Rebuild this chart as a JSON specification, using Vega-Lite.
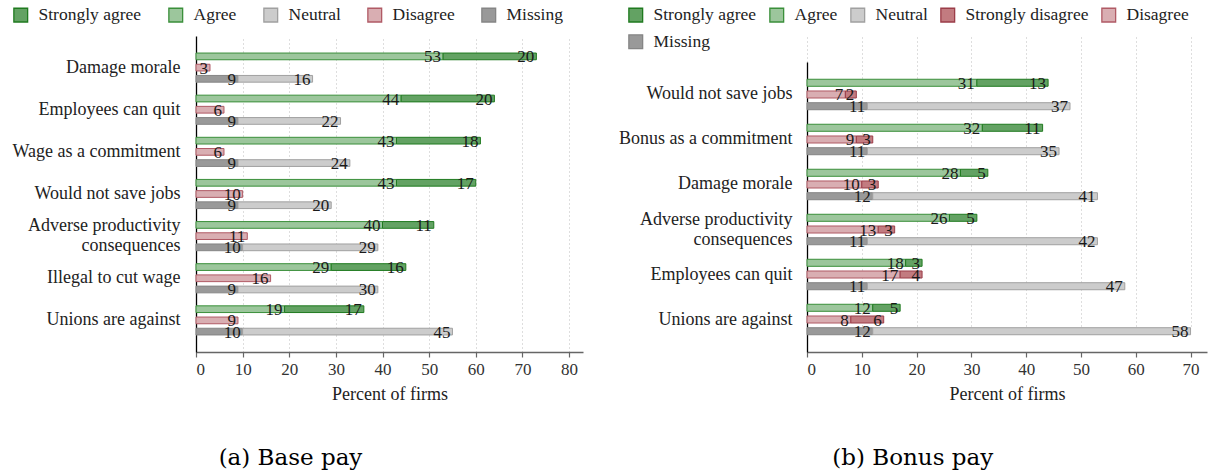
{
  "$schema": "https://vega.github.io/schema/vega-lite/v6.json",
  "background": "white",
  "padding": {"left": 12, "top": 6, "right": 5, "bottom": 2},
  "config": {
    "font": "Liberation Serif",
    "view": {"stroke": null},
    "axisX": {
      "grid": true, "gridDash": [1, 3], "gridColor": "#bdbdbd", "gridWidth": 1,
      "domainColor": "#666666", "domainWidth": 1.5, "tickColor": "#666666", "tickSize": 5, "tickWidth": 1.2,
      "labelFont": "Liberation Serif", "labelFontSize": 17, "labelColor": "#333333", "labelPadding": 4,
      "titleFont": "Liberation Serif", "titleFontSize": 18, "titleFontWeight": "normal", "titleColor": "#222222", "titlePadding": 8
    },
    "axisY": {
      "grid": false, "ticks": false, "domainColor": "#000000", "domainWidth": 1.3,
      "labelFont": "Liberation Serif", "labelFontSize": 18, "labelColor": "#222222", "labelPadding": 16, "labelLimit": 400, "labelLineHeight": 20
    },
    "legend": {
      "orient": "none", "direction": "horizontal", "title": null, "symbolType": "square", "symbolSize": 190,
      "symbolStrokeWidth": 1.3, "labelFont": "Liberation Serif", "labelFontSize": 17.5, "labelOffset": 9, "labelColor": "#222222", "labelLimit": 400
    }
  },
  "datasets": {
    "base": [
      {"q": "Damage morale", "resp": "Agree", "group": "agree", "v": 53},
      {"q": "Damage morale", "resp": "Strongly agree", "group": "agree", "v": 20},
      {"q": "Damage morale", "resp": "Disagree", "group": "disagree", "v": 3},
      {"q": "Damage morale", "resp": "Missing", "group": "other", "v": 9},
      {"q": "Damage morale", "resp": "Neutral", "group": "other", "v": 16},
      {"q": "Employees can quit", "resp": "Agree", "group": "agree", "v": 44},
      {"q": "Employees can quit", "resp": "Strongly agree", "group": "agree", "v": 20},
      {"q": "Employees can quit", "resp": "Disagree", "group": "disagree", "v": 6},
      {"q": "Employees can quit", "resp": "Missing", "group": "other", "v": 9},
      {"q": "Employees can quit", "resp": "Neutral", "group": "other", "v": 22},
      {"q": "Wage as a commitment", "resp": "Agree", "group": "agree", "v": 43},
      {"q": "Wage as a commitment", "resp": "Strongly agree", "group": "agree", "v": 18},
      {"q": "Wage as a commitment", "resp": "Disagree", "group": "disagree", "v": 6},
      {"q": "Wage as a commitment", "resp": "Missing", "group": "other", "v": 9},
      {"q": "Wage as a commitment", "resp": "Neutral", "group": "other", "v": 24},
      {"q": "Would not save jobs", "resp": "Agree", "group": "agree", "v": 43},
      {"q": "Would not save jobs", "resp": "Strongly agree", "group": "agree", "v": 17},
      {"q": "Would not save jobs", "resp": "Disagree", "group": "disagree", "v": 10},
      {"q": "Would not save jobs", "resp": "Missing", "group": "other", "v": 9},
      {"q": "Would not save jobs", "resp": "Neutral", "group": "other", "v": 20},
      {"q": "Adverse productivity consequences", "resp": "Agree", "group": "agree", "v": 40},
      {"q": "Adverse productivity consequences", "resp": "Strongly agree", "group": "agree", "v": 11},
      {"q": "Adverse productivity consequences", "resp": "Disagree", "group": "disagree", "v": 11},
      {"q": "Adverse productivity consequences", "resp": "Missing", "group": "other", "v": 10},
      {"q": "Adverse productivity consequences", "resp": "Neutral", "group": "other", "v": 29},
      {"q": "Illegal to cut wage", "resp": "Agree", "group": "agree", "v": 29},
      {"q": "Illegal to cut wage", "resp": "Strongly agree", "group": "agree", "v": 16},
      {"q": "Illegal to cut wage", "resp": "Disagree", "group": "disagree", "v": 16},
      {"q": "Illegal to cut wage", "resp": "Missing", "group": "other", "v": 9},
      {"q": "Illegal to cut wage", "resp": "Neutral", "group": "other", "v": 30},
      {"q": "Unions are against", "resp": "Agree", "group": "agree", "v": 19},
      {"q": "Unions are against", "resp": "Strongly agree", "group": "agree", "v": 17},
      {"q": "Unions are against", "resp": "Disagree", "group": "disagree", "v": 9},
      {"q": "Unions are against", "resp": "Missing", "group": "other", "v": 10},
      {"q": "Unions are against", "resp": "Neutral", "group": "other", "v": 45}
    ],
    "bonus": [
      {"q": "Would not save jobs", "resp": "Agree", "group": "agree", "v": 31},
      {"q": "Would not save jobs", "resp": "Strongly agree", "group": "agree", "v": 13},
      {"q": "Would not save jobs", "resp": "Disagree", "group": "disagree", "v": 7},
      {"q": "Would not save jobs", "resp": "Strongly disagree", "group": "disagree", "v": 2},
      {"q": "Would not save jobs", "resp": "Missing", "group": "other", "v": 11},
      {"q": "Would not save jobs", "resp": "Neutral", "group": "other", "v": 37},
      {"q": "Bonus as a commitment", "resp": "Agree", "group": "agree", "v": 32},
      {"q": "Bonus as a commitment", "resp": "Strongly agree", "group": "agree", "v": 11},
      {"q": "Bonus as a commitment", "resp": "Disagree", "group": "disagree", "v": 9},
      {"q": "Bonus as a commitment", "resp": "Strongly disagree", "group": "disagree", "v": 3},
      {"q": "Bonus as a commitment", "resp": "Missing", "group": "other", "v": 11},
      {"q": "Bonus as a commitment", "resp": "Neutral", "group": "other", "v": 35},
      {"q": "Damage morale", "resp": "Agree", "group": "agree", "v": 28},
      {"q": "Damage morale", "resp": "Strongly agree", "group": "agree", "v": 5},
      {"q": "Damage morale", "resp": "Disagree", "group": "disagree", "v": 10},
      {"q": "Damage morale", "resp": "Strongly disagree", "group": "disagree", "v": 3},
      {"q": "Damage morale", "resp": "Missing", "group": "other", "v": 12},
      {"q": "Damage morale", "resp": "Neutral", "group": "other", "v": 41},
      {"q": "Adverse productivity consequences", "resp": "Agree", "group": "agree", "v": 26},
      {"q": "Adverse productivity consequences", "resp": "Strongly agree", "group": "agree", "v": 5},
      {"q": "Adverse productivity consequences", "resp": "Disagree", "group": "disagree", "v": 13},
      {"q": "Adverse productivity consequences", "resp": "Strongly disagree", "group": "disagree", "v": 3},
      {"q": "Adverse productivity consequences", "resp": "Missing", "group": "other", "v": 11},
      {"q": "Adverse productivity consequences", "resp": "Neutral", "group": "other", "v": 42},
      {"q": "Employees can quit", "resp": "Agree", "group": "agree", "v": 18},
      {"q": "Employees can quit", "resp": "Strongly agree", "group": "agree", "v": 3},
      {"q": "Employees can quit", "resp": "Disagree", "group": "disagree", "v": 17},
      {"q": "Employees can quit", "resp": "Strongly disagree", "group": "disagree", "v": 4},
      {"q": "Employees can quit", "resp": "Missing", "group": "other", "v": 11},
      {"q": "Employees can quit", "resp": "Neutral", "group": "other", "v": 47},
      {"q": "Unions are against", "resp": "Agree", "group": "agree", "v": 12},
      {"q": "Unions are against", "resp": "Strongly agree", "group": "agree", "v": 5},
      {"q": "Unions are against", "resp": "Disagree", "group": "disagree", "v": 8},
      {"q": "Unions are against", "resp": "Strongly disagree", "group": "disagree", "v": 6},
      {"q": "Unions are against", "resp": "Missing", "group": "other", "v": 12},
      {"q": "Unions are against", "resp": "Neutral", "group": "other", "v": 58}
    ]
  },
  "bounds": "flush",
  "spacing": 224,
  "resolve": {
    "scale": {"x": "independent", "y": "independent", "yOffset": "independent", "fill": "independent", "stroke": "independent"},
    "legend": {"fill": "independent", "stroke": "independent"}
  },
  "hconcat": [
    {
      "width": 387,
      "height": 316,
      "title": {"text": "(a) Base pay", "orient": "bottom", "anchor": "middle", "frame": "bounds", "font": "DejaVu Serif", "fontSize": 23, "fontWeight": "normal", "offset": 44, "dx": -7, "color": "#000000"},
      "data": {"name": "base"},
      "transform": [
        {"stack": "v", "groupby": ["q", "group"], "sort": [{"field": "resp", "order": "ascending"}], "as": ["x0", "x1"]}
      ],
      "encoding": {
        "y": {
          "field": "q", "type": "nominal",
          "sort": ["Damage morale", "Employees can quit", "Wage as a commitment", "Would not save jobs", "Adverse productivity consequences", "Illegal to cut wage", "Unions are against"],
          "scale": {"paddingInner": 0, "paddingOuter": 0.25},
          "axis": {
            "title": null,
            "labelExpr": "datum.label == 'Adverse productivity consequences' ? ['Adverse productivity', 'consequences'] : datum.label",
            "labelOffset": {"condition": {"test": "datum.value == 'Adverse productivity consequences'", "value": -10}, "value": 0}
          }
        },
        "yOffset": {"field": "group", "type": "nominal", "sort": ["agree", "disagree", "other"], "scale": {"paddingInner": 0.4, "paddingOuter": 0.58}}
      },
      "layer": [
        {
          "mark": {"type": "bar", "strokeWidth": 1},
          "encoding": {
            "x": {"field": "x0", "type": "quantitative", "title": "Percent of firms", "scale": {"domain": [0, 83], "nice": false}, "axis": {"values": [0, 10, 20, 30, 40, 50, 60, 70, 80]}},
            "x2": {"field": "x1"},
            "fill": {"field": "resp", "type": "nominal",
              "scale": {"domain": ["Strongly agree", "Agree", "Neutral", "Disagree", "Missing"], "range": ["#63a263", "#9cc69c", "#cccccc", "#d9aeb2", "#999999"]},
              "legend": {"legendX": -184, "legendY": -30, "columnPadding": 24}},
            "stroke": {"field": "resp", "type": "nominal",
              "scale": {"domain": ["Strongly agree", "Agree", "Neutral", "Disagree", "Missing"], "range": ["#1f7a1f", "#3a8f3a", "#a0a0a0", "#b05a65", "#858585"]},
              "legend": {"legendX": -184, "legendY": -30, "columnPadding": 24}}
          }
        },
        {
          "mark": {"type": "text", "align": "right", "baseline": "middle", "dx": -2, "dy": 1, "font": "Liberation Serif", "fontSize": 17, "color": "#1a1a1a"},
          "encoding": {
            "x": {"field": "x1", "type": "quantitative", "title": "Percent of firms"},
            "text": {"field": "v", "type": "quantitative"}
          }
        }
      ]
    },
    {
      "width": 400,
      "height": 316,
      "title": {"text": "(b) Bonus pay", "orient": "bottom", "anchor": "middle", "frame": "bounds", "font": "DejaVu Serif", "fontSize": 23, "fontWeight": "normal", "offset": 44, "color": "#000000"},
      "data": {"name": "bonus"},
      "transform": [
        {"stack": "v", "groupby": ["q", "group"], "sort": [{"field": "resp", "order": "ascending"}], "as": ["x0", "x1"]}
      ],
      "encoding": {
        "y": {
          "field": "q", "type": "nominal",
          "sort": ["Would not save jobs", "Bonus as a commitment", "Damage morale", "Adverse productivity consequences", "Employees can quit", "Unions are against"],
          "scale": {"paddingInner": 0, "paddingOuter": 0.222, "range": [26, 316]},
          "axis": {
            "title": null, "labelPadding": 15,
            "labelExpr": "datum.label == 'Adverse productivity consequences' ? ['Adverse productivity', 'consequences'] : datum.label",
            "labelOffset": {"condition": {"test": "datum.value == 'Adverse productivity consequences'", "value": -10}, "value": 0}
          }
        },
        "yOffset": {"field": "group", "type": "nominal", "sort": ["agree", "disagree", "other"], "scale": {"paddingInner": 0.4, "paddingOuter": 0.62}}
      },
      "layer": [
        {
          "mark": {"type": "bar", "strokeWidth": 1},
          "encoding": {
            "x": {"field": "x0", "type": "quantitative", "title": "Percent of firms", "scale": {"domain": [0, 73], "nice": false}, "axis": {"values": [0, 10, 20, 30, 40, 50, 60, 70]}},
            "x2": {"field": "x1"},
            "fill": {"field": "resp", "type": "nominal",
              "scale": {"domain": ["Strongly agree", "Agree", "Neutral", "Strongly disagree", "Disagree", "Missing"], "range": ["#63a263", "#9cc69c", "#cccccc", "#c27b80", "#d9aeb2", "#999999"]},
              "legend": {"legendX": -180, "legendY": -30, "columns": 5, "columnPadding": 10, "rowPadding": 7}},
            "stroke": {"field": "resp", "type": "nominal",
              "scale": {"domain": ["Strongly agree", "Agree", "Neutral", "Strongly disagree", "Disagree", "Missing"], "range": ["#1f7a1f", "#3a8f3a", "#a0a0a0", "#9b3d48", "#b05a65", "#858585"]},
              "legend": {"legendX": -180, "legendY": -30, "columns": 5, "columnPadding": 10, "rowPadding": 7}}
          }
        },
        {
          "mark": {"type": "text", "align": "right", "baseline": "middle", "dx": -2, "dy": 1, "font": "Liberation Serif", "fontSize": 17, "color": "#1a1a1a"},
          "encoding": {
            "x": {"field": "x1", "type": "quantitative", "title": "Percent of firms"},
            "text": {"field": "v", "type": "quantitative"}
          }
        }
      ]
    }
  ]
}
